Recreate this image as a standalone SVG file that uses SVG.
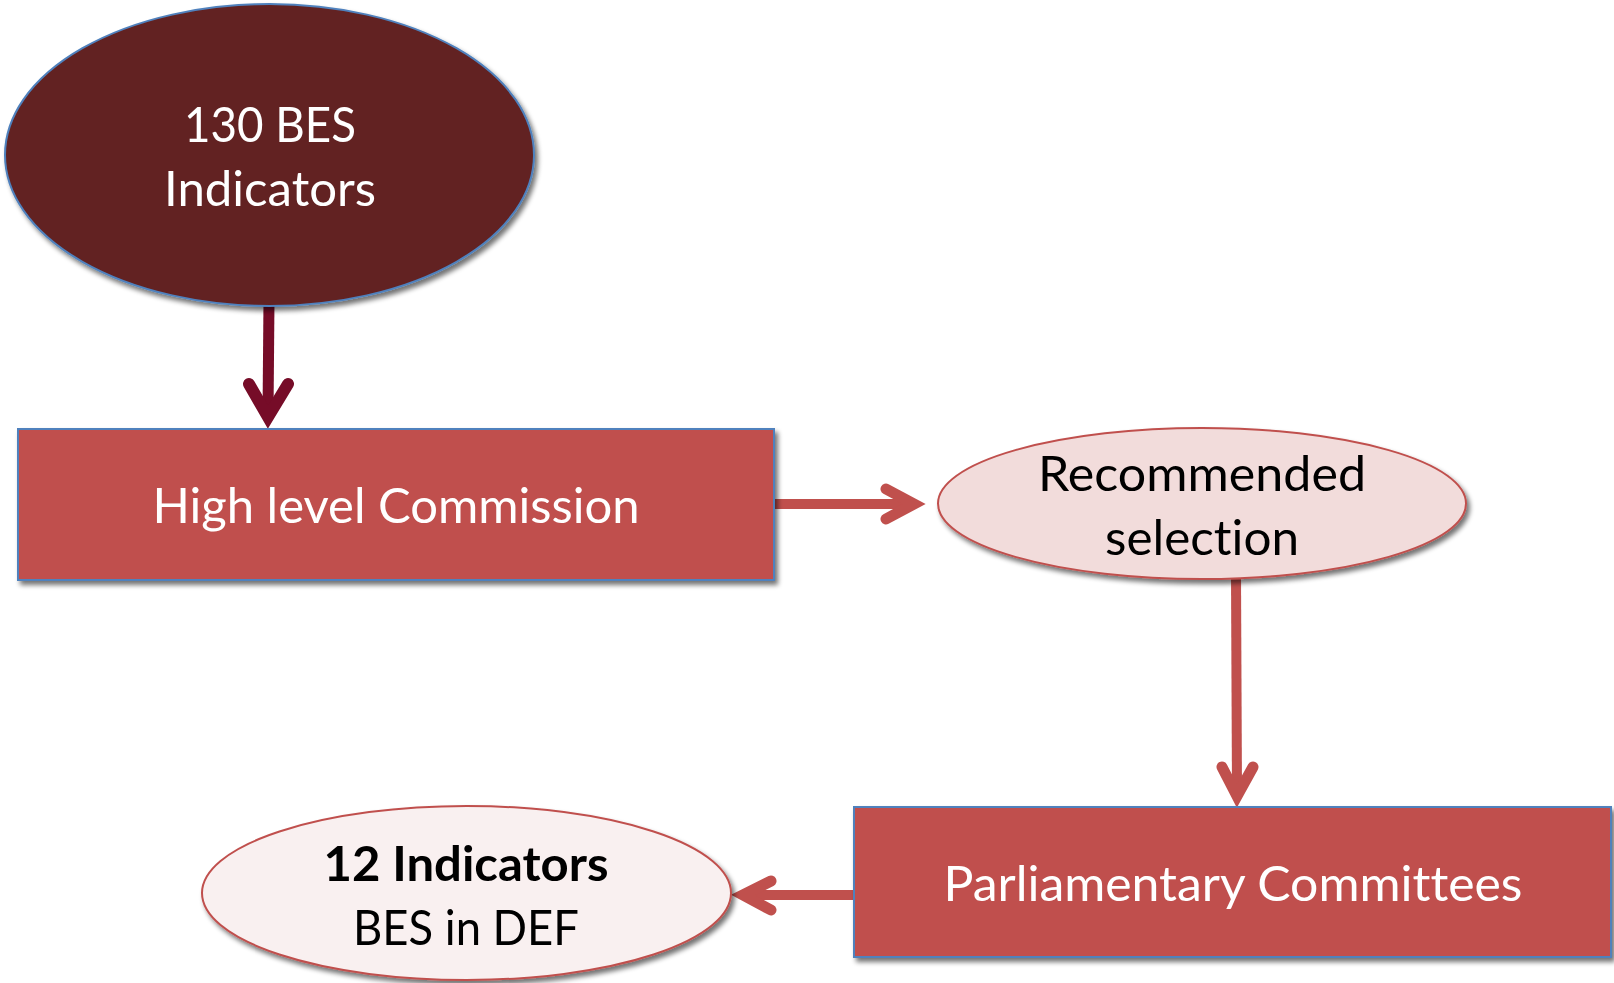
<svg xmlns="http://www.w3.org/2000/svg" width="1614" height="983" viewBox="0 0 1614 983">
  <defs>
    <filter id="shadow" x="-10%" y="-10%" width="125%" height="130%">
      <feGaussianBlur in="SourceAlpha" stdDeviation="2.5"/>
      <feOffset dx="3" dy="4" result="off"/>
      <feComponentTransfer>
        <feFuncA type="linear" slope="0.55"/>
      </feComponentTransfer>
      <feMerge>
        <feMergeNode/>
        <feMergeNode in="SourceGraphic"/>
      </feMerge>
    </filter>
    <style>
      .lbl { font-family: Lato, "Liberation Sans", sans-serif; font-size: 48px; text-anchor: middle; font-variant-ligatures: none; }
      .light { fill: #ffffff; }
      .dark { fill: #000000; }
      .bold { font-weight: bold; }
      .box { fill: #c0504d; stroke: #4f81bd; stroke-width: 2; }
      .conn { fill: none; stroke: #c0504d; stroke-width: 10; stroke-linecap: butt; }
      .head { fill: none; stroke: #c0504d; stroke-width: 11; stroke-linecap: round; stroke-linejoin: miter; stroke-miterlimit: 6; }
      .maroon { stroke: #760c28; }
    </style>
  </defs>

  <rect width="1614" height="983" fill="#ffffff"/>

  <!-- connectors -->
  <g id="connectors">
    <path class="conn maroon" style="stroke-width:11" d="M269 300 L268 414"/>
    <path class="head maroon" style="stroke-width:12" d="M249 384 L268 417 L288 384"/>

    <path class="conn" d="M772 504 L912 504"/>
    <path class="head" d="M886 489 L914 504 L886 519"/>

    <path class="conn" d="M1236 575 L1237 793"/>
    <path class="head" d="M1222 767 L1237 796 L1253 767"/>

    <path class="conn" d="M856 895 L746 895"/>
    <path class="head" d="M771 881 L743 895 L771 910"/>
  </g>

  <!-- 130 BES Indicators -->
  <g id="node-bes130" filter="url(#shadow)">
    <ellipse cx="269.5" cy="155" rx="264.5" ry="151" fill="#622323" stroke="#4f81bd" stroke-width="2"/>
    <text class="lbl light" x="270" y="142" textLength="172" lengthAdjust="spacingAndGlyphs">130 BES</text>
    <text class="lbl light" x="270" y="206" textLength="212" lengthAdjust="spacingAndGlyphs">Indicators</text>
  </g>

  <!-- High level Commission -->
  <g id="node-commission" filter="url(#shadow)">
    <rect class="box" x="18" y="429" width="756" height="151"/>
    <text class="lbl light" x="396" y="523" textLength="487" lengthAdjust="spacingAndGlyphs">High level Commission</text>
  </g>

  <!-- Recommended selection -->
  <g id="node-recommended" filter="url(#shadow)">
    <ellipse cx="1202" cy="503.5" rx="264" ry="75.5" fill="#f2dcdb" stroke="#c0504d" stroke-width="2"/>
    <text class="lbl dark" x="1202" y="491" textLength="328" lengthAdjust="spacingAndGlyphs">Recommended</text>
    <text class="lbl dark" x="1202" y="555" textLength="194" lengthAdjust="spacingAndGlyphs">selection</text>
  </g>

  <!-- Parliamentary Committees -->
  <g id="node-parliament" filter="url(#shadow)">
    <rect class="box" x="854" y="807" width="757" height="150"/>
    <text class="lbl light" x="1233" y="901" textLength="579" lengthAdjust="spacingAndGlyphs">Parliamentary Committees</text>
  </g>

  <!-- 12 Indicators BES in DEF -->
  <g id="node-bes12" filter="url(#shadow)">
    <ellipse cx="466.5" cy="893" rx="264.5" ry="87" fill="#f9f0f0" stroke="#c0504d" stroke-width="2"/>
    <text class="lbl dark bold" x="466" y="881" textLength="285" lengthAdjust="spacingAndGlyphs">12 Indicators</text>
    <text class="lbl dark" x="466" y="945" textLength="226" lengthAdjust="spacingAndGlyphs">BES in DEF</text>
  </g>
</svg>
